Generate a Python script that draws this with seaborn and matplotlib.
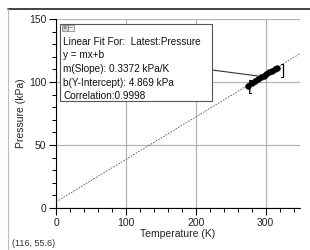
import numpy as np
import pandas as pd
import matplotlib
matplotlib.use("Agg")
import matplotlib.pyplot as plt
import seaborn as sns
from matplotlib.lines import Line2D
from matplotlib.patches import Rectangle

# Data
temperature = [274, 280, 285, 289, 293, 297, 301, 305, 309, 313, 316]
pressure = [97.0, 99.3, 100.9, 102.3, 103.6, 105.0, 106.5, 107.8, 109.0, 110.3, 111.3]
slope = 0.3372
intercept = 4.869
fit_x = [0, 350]
x_ticks = [0, 100, 200, 300]
y_ticks = [0, 50, 100, 150]
fit_lines = ["Linear Fit For:  Latest:Pressure", "y = mx+b",
             "m(Slope): 0.3372 kPa/K", "b(Y-Intercept): 4.869 kPa",
             "Correlation:0.9998"]
cursor_text = "(116, 55.6)"

sns.set_theme(style="white")
plt.rcParams['font.family'] = ['Liberation Sans', 'DejaVu Sans']

fig = plt.figure(figsize=(3.1, 2.5), dpi=100)
ax = fig.add_axes([56/310, 42/250, 244/310, 189/250])

df_fit = pd.DataFrame({"T": fit_x, "P": [slope * v + intercept for v in fit_x]})
df = pd.DataFrame({"T": temperature, "P": pressure})

sns.lineplot(data=df_fit, x="T", y="P", ax=ax, color="#555555", lw=0.6,
             linestyle=(0, (2, 1.5)), zorder=3)
sns.lineplot(data=df, x="T", y="P", ax=ax, color="black", lw=2.5, zorder=4)
sns.scatterplot(data=df, x="T", y="P", ax=ax, color="black", s=18,
                edgecolor="black", zorder=5)

ax.set_xlim(0, 349)
ax.set_ylim(0, 150)
ax.set_xticks(x_ticks)
ax.set_yticks(y_ticks)
ax.set_xticks(np.arange(0, 350, 20), minor=True)
ax.set_yticks(np.arange(0, 151, 10), minor=True)
ax.grid(True, which="major", color="#b4b4b4", lw=0.9)
for s in ["top", "right"]:
    ax.spines[s].set_visible(False)
for s in ["left", "bottom"]:
    ax.spines[s].set_color("black")
    ax.spines[s].set_linewidth(0.8)
ax.tick_params(which="major", direction="out", length=5, width=0.8, color="black",
               labelsize=7.5, pad=2, bottom=True, left=True, labelcolor="#222222")
ax.tick_params(which="minor", direction="out", length=3, width=0.7, color="black",
               bottom=True, left=True)
ax.set_xlabel("Temperature (K)", fontsize=7.5, labelpad=1, color="#222222")
ax.set_ylabel("Pressure (kPa)", fontsize=7.5, labelpad=2, color="#222222")

# brackets of fit range
ax.text(278, 96, "[", fontsize=11, ha="center", va="center", color="black", zorder=6)
ax.text(324, 108.5, "]", fontsize=11, ha="center", va="center", color="black", zorder=6)

# connector line from box to data
fig.add_artist(Line2D([212/310, 258/310], [1 - 70/250, 1 - 76/250], color="#333333", lw=0.8))

# annotation box
bx0, by0, bx1, by1 = 60, 24, 212, 101
fig.add_artist(Rectangle((bx0/310, 1 - by1/250), (bx1 - bx0)/310, (by1 - by0)/250,
                         facecolor="white", edgecolor="#555555", lw=0.8, zorder=10))
# small close / minimize buttons
fig.add_artist(Rectangle((62/310, 1 - 31/250), 6/310, 6/250, facecolor="#d0d0d0",
                         edgecolor="#777777", lw=0.5, zorder=11))
fig.add_artist(Rectangle((68/310, 1 - 31/250), 6/310, 6/250, facecolor="#f0f0f0",
                         edgecolor="#777777", lw=0.5, zorder=11))
fig.text(65/310, 1 - 28/250, "×", fontsize=5, color="#444444", va="center", ha="center", zorder=12)
fig.text(71/310, 1 - 28/250, "–", fontsize=5, color="#444444", va="center", ha="center", zorder=12)
for i, line in enumerate(fit_lines):
    fig.text(63/310, 1 - (42 + i*13.5)/250, line, fontsize=7.2, color="#111111",
             va="center", ha="left", zorder=11)

fig.text(12/310, 1 - 243/250, cursor_text, fontsize=6.5, color="#333333", va="center")

# outer frame
fig.add_artist(Line2D([8/310, 1], [1 - 9/250, 1 - 9/250], color="#222222", lw=1.2))
fig.add_artist(Line2D([8/310, 8/310], [0, 1 - 9/250], color="#bbbbbb", lw=0.8))

fig.savefig("out.png", dpi=100)
